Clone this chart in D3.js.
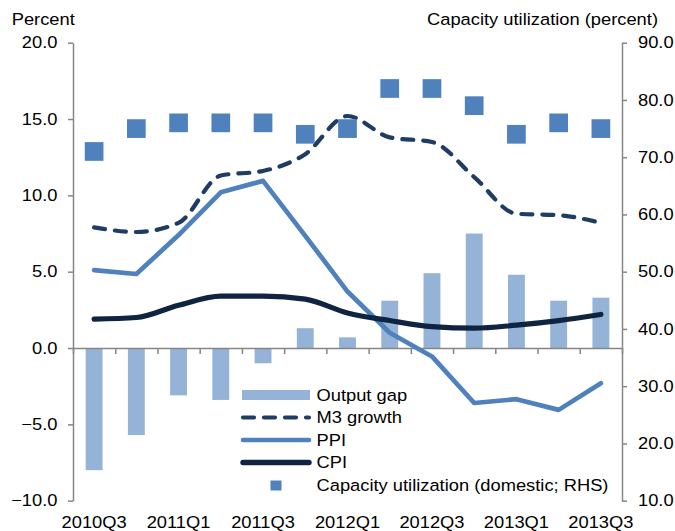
<!DOCTYPE html>
<html>
<head>
<meta charset="utf-8">
<script src="https://cdn.jsdelivr.net/npm/d3@7"></script>
<style>
  body { margin: 0; background: #fff; }
  text { font-family: "Liberation Sans", Arial, sans-serif; fill: #000; }
</style>
</head>
<body>
<div id="chart"></div>
<script>
const width = 675
const height = 531

// Quarters on the x axis (labels shown every other one)
const quarters = ["2010Q3", "2010Q4", "2011Q1", "2011Q2", "2011Q3", "2011Q4", "2012Q1",
                  "2012Q2", "2012Q3", "2012Q4", "2013Q1", "2013Q2", "2013Q3"]
const quarterLabels = ["2010Q3", "2011Q1", "2011Q3", "2012Q1", "2012Q3", "2013Q1", "2013Q3"]

// Series
const outputGap = [-8.0, -5.7, -3.1, -3.4, -1.0, 1.3, 0.7, 3.1, 4.9, 7.5, 4.8, 3.1, 3.3]
const m3Growth  = [7.9, 7.6, 8.2, 11.3, 11.6, 12.7, 15.2, 13.8, 13.5, 11.2, 8.8, 8.7, 8.2]
const ppi       = [5.1, 4.85, 7.4, 10.2, 10.95, 7.35, 3.7, 1.0, -0.55, -3.6, -3.35, -4.05, -2.3]
const cpi       = [1.9, 2.0, 2.8, 3.4, 3.4, 3.2, 2.3, 1.8, 1.4, 1.3, 1.5, 1.8, 2.2]
const capacity  = [71, 75, 76, 76, 76, 74, 75, 82, 82, 79, 74, 76, 75]

const leftTicks = [-10, -5, 0, 5, 10, 15, 20]
const rightTicks = [10, 20, 30, 40, 50, 60, 70, 80, 90]

const colBar = "#95b3d7"
const colM3 = "#1f3c64"
const colPPI = "#4f81bd"
const colCPI = "#0f2440"
const colCap = "#4f81bd"
const colAxis = "#868686"

const plotLeft = 73, plotRight = 622, plotTop = 42.7, plotBottom = 500.7
const fontSize = 16.5
const stretch = 1.11   // text in the picture is a bit wider than tall

const svg = d3.select("#chart").append("svg")
  .attr("width", width)
  .attr("height", height)

const x = d3.scaleBand().domain(quarters).range([plotLeft, plotRight]).padding(0)
const xEdge = d3.scaleLinear().domain([0, quarters.length]).range([plotLeft, plotRight])
const yL = d3.scaleLinear().domain([-10, 20]).range([plotBottom, plotTop])
const yR = d3.scaleLinear().domain([10, 90]).range([plotBottom, plotTop])
const cx = d => x(d) + x.bandwidth() / 2

// widen text horizontally without moving its anchor
const widen = sel => sel.each(function () {
  const t = d3.select(this)
  const tx = +t.attr("x") || 0
  t.attr("x", tx / stretch).attr("transform", `scale(${stretch},1)`)
})

const styleAxis = g => {
  g.select(".domain").attr("stroke", colAxis).attr("stroke-width", 1.5)
  g.selectAll(".tick line").attr("stroke", colAxis).attr("stroke-width", 1.5)
  g.selectAll("text").attr("font-size", fontSize).attr("fill", "#000")
    .style("font-family", "'Liberation Sans', Arial, sans-serif")
}

// Left axis
const gL = svg.append("g")
  .attr("transform", `translate(${plotLeft},0)`)
  .call(d3.axisLeft(yL).tickValues(leftTicks).tickFormat(d3.format(".1f"))
        .tickSize(5).tickSizeOuter(0).tickPadding(10.5))
  .call(styleAxis)
gL.selectAll("text").call(widen)

// Right axis
const gR = svg.append("g")
  .attr("transform", `translate(${plotRight},0)`)
  .call(d3.axisRight(yR).tickValues(rightTicks).tickFormat(d3.format(".1f"))
        .tickSize(5).tickSizeOuter(0).tickPadding(11))
  .call(styleAxis)
gR.selectAll("text").call(widen)

// Output gap bars
const barW = x.bandwidth() * 0.4
svg.append("g").selectAll("rect")
  .data(outputGap)
  .join("rect")
    .attr("x", (d, i) => cx(quarters[i]) - barW / 2)
    .attr("y", d => yL(Math.max(0, d)))
    .attr("width", barW)
    .attr("height", d => Math.abs(yL(d) - yL(0)))
    .attr("fill", colBar)

// Zero line with category ticks
svg.append("g")
  .attr("transform", `translate(0,${yL(0)})`)
  .call(d3.axisBottom(xEdge).tickValues(d3.range(quarters.length + 1))
        .tickFormat("").tickSize(6).tickSizeOuter(0))
  .call(styleAxis)

// Quarter labels at the bottom
const gX = svg.append("g")
  .attr("transform", `translate(0,${plotBottom})`)
  .call(d3.axisBottom(x).tickValues(quarterLabels).tickSize(0).tickPadding(15.5))
  .call(styleAxis)
gX.select(".domain").remove()
gX.selectAll("text").call(widen)

// Lines
const lineSmooth = d3.line()
  .x((d, i) => cx(quarters[i]))
  .y(d => yL(d))
  .curve(d3.curveMonotoneX)
const lineStraight = d3.line()
  .x((d, i) => cx(quarters[i]))
  .y(d => yL(d))

svg.append("path").datum(m3Growth)
  .attr("d", lineSmooth)
  .attr("fill", "none").attr("stroke", colM3).attr("stroke-width", 4.2)
  .attr("stroke-dasharray", "11,10").attr("stroke-linecap", "round")

svg.append("path").datum(ppi)
  .attr("d", lineStraight)
  .attr("fill", "none").attr("stroke", colPPI).attr("stroke-width", 4.7)
  .attr("stroke-linejoin", "round").attr("stroke-linecap", "round")

svg.append("path").datum(cpi)
  .attr("d", lineSmooth)
  .attr("fill", "none").attr("stroke", colCPI).attr("stroke-width", 5.2)
  .attr("stroke-linecap", "round")

// Capacity utilization squares (right axis)
const sq = 18.7
svg.append("g").selectAll("rect")
  .data(capacity)
  .join("rect")
    .attr("x", (d, i) => cx(quarters[i]) - sq / 2)
    .attr("y", d => yR(d) - sq / 2)
    .attr("width", sq)
    .attr("height", sq)
    .attr("fill", colCap)

// Axis titles
svg.append("text").attr("x", 11.7).attr("y", 25)
  .attr("font-size", fontSize).text("Percent").call(widen)
svg.append("text").attr("x", 658).attr("y", 25)
  .attr("text-anchor", "end")
  .attr("font-size", fontSize).text("Capacity utilization (percent)").call(widen)

// Legend
const legend = [
  { name: "Output gap", type: "bar", y: 395 },
  { name: "M3 growth", type: "dash", y: 417.5 },
  { name: "PPI", type: "ppi", y: 440 },
  { name: "CPI", type: "cpi", y: 462.5 },
  { name: "Capacity utilization (domestic; RHS)", type: "square", y: 485.5 }
]
const lx0 = 241, lx1 = 311, ltx = 316.5
const lg = svg.append("g")
legend.forEach(item => {
  if (item.type === "bar") {
    lg.append("rect").attr("x", lx0 + 1).attr("y", item.y - 5)
      .attr("width", lx1 - lx0 - 2).attr("height", 10).attr("fill", colBar)
  } else if (item.type === "square") {
    lg.append("rect").attr("x", 276 - 5.5).attr("y", item.y - 5)
      .attr("width", 11).attr("height", 10).attr("fill", colCap)
  } else {
    const s = item.type === "dash" ? colM3 : item.type === "ppi" ? colPPI : colCPI
    const w = item.type === "dash" ? 4.2 : item.type === "ppi" ? 4.7 : 5.4
    const ln = lg.append("line")
      .attr("x1", lx0 + 2).attr("x2", lx1 - 2)
      .attr("y1", item.y).attr("y2", item.y)
      .attr("stroke", s).attr("stroke-width", w).attr("stroke-linecap", "round")
    if (item.type === "dash") ln.attr("stroke-dasharray", "11,10")
  }
  lg.append("text").attr("x", ltx).attr("y", item.y).attr("dy", "0.36em")
    .attr("font-size", fontSize).text(item.name).call(widen)
})
</script>
</body>
</html>
